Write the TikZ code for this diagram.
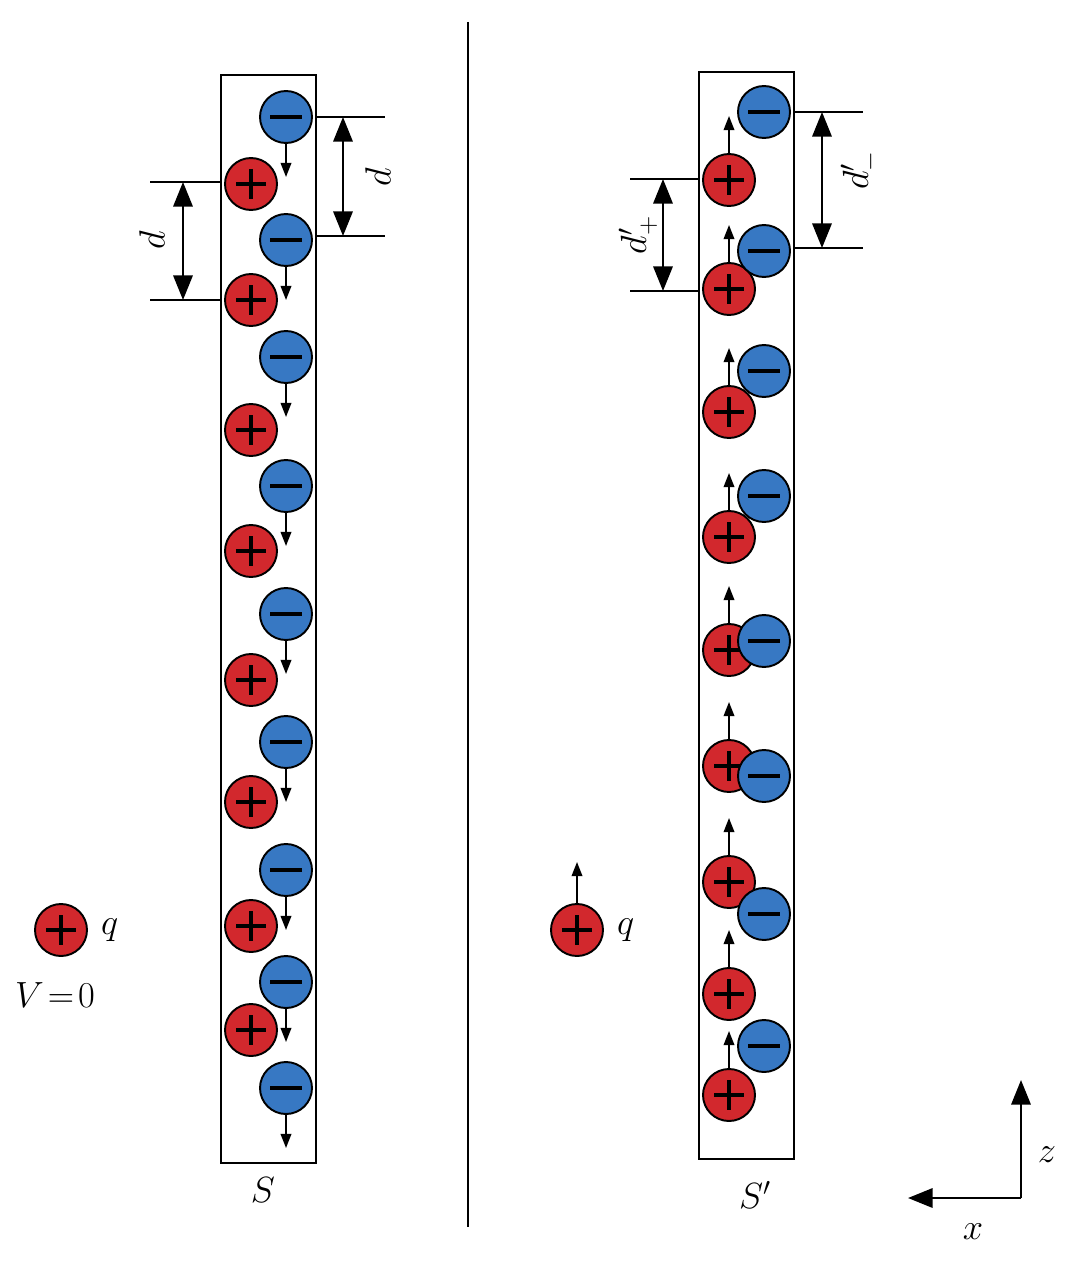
\documentclass[tikz,border=0pt]{standalone}
\usepackage{tikz}
\usetikzlibrary{arrows.meta,calc}
\definecolor{posred}{RGB}{210,40,45}
\definecolor{negblue}{RGB}{55,120,195}
\tikzset{
  poscharge/.style={circle,draw=black,line width=1.1pt,fill=posred,minimum size=1.04cm,inner sep=0pt},
  negcharge/.style={circle,draw=black,line width=1.1pt,fill=negblue,minimum size=1.04cm,inner sep=0pt},
  vel/.style={line width=1pt,-{Triangle[length=8pt,width=6pt]}},
  dim/.style={line width=1.3pt,{Triangle[length=14pt,width=11pt]}-{Triangle[length=14pt,width=11pt]}},
  lab/.style={font=\huge}
}
\newcommand{\plussign}[1]{\draw[line width=2.4pt] ($(#1)+(-15,0)$) -- ($(#1)+(15,0)$) ($(#1)+(0,-15)$) -- ($(#1)+(0,15)$);}
\newcommand{\minussign}[1]{\draw[line width=2.4pt] ($(#1)+(-16,0)$) -- ($(#1)+(16,0)$);}
\begin{document}
\begin{tikzpicture}[x=0.02cm,y=-0.02cm]
\useasboundingbox (0,0) rectangle (1080,1267);

%boxes
\draw[line width=1.2pt] (221,75) rectangle (316,1163);
\draw[line width=1.2pt] (699,72) rectangle (794,1159);
\draw[line width=1.2pt] (468,22) -- (468,1227);

%left frame S
\foreach \y [count=\i] in {184,300,430,551,680,802,926,1030}{
  \node[poscharge] (p\i) at (251,\y) {};
  \plussign{p\i}
}
\foreach \y [count=\i] in {117,240,357,486,614,742,870,982,1088}{
  \coordinate (nv\i) at (286,\y+60);
  \draw[vel] (286,\y+26) -- (nv\i);
  \node[negcharge] (n\i) at (286,\y) {};
  \minussign{n\i}
}

%right frame S'
\foreach \y [count=\i] in {180,289,412,537,650,766,882,994,1095}{
  \coordinate (pv\i) at (729,\y-64);
  \draw[vel] (729,\y-26) -- (pv\i);
  \node[poscharge] (q\i) at (729,\y) {};
  \plussign{q\i}
}
\foreach \y [count=\i] in {112,251,371,496,641,776,914,1046}{
  \node[negcharge] (m\i) at (764,\y) {};
  \minussign{m\i}
}

%dimensions left
\draw[line width=1.2pt] (316,117) -- (385,117) (316,236) -- (385,236);
\draw[dim] (343,117) -- (343,236);
\node[lab,rotate=90] at (378,177) {$d$};
\draw[line width=1.2pt] (150,182) -- (221,182) (150,300) -- (221,300);
\draw[dim] (183,182) -- (183,300);
\node[lab,rotate=90] at (152,240) {$d$};
%dimensions right
\draw[line width=1.2pt] (794,112) -- (863,112) (794,248) -- (863,248);
\draw[dim] (822,112) -- (822,248);
\node[lab,rotate=90] at (860,170) {$d'_-$};
\draw[line width=1.2pt] (630,179) -- (699,179) (630,291) -- (699,291);
\draw[dim] (663,179) -- (663,291);
\node[lab,rotate=90] at (638,235) {$d'_+$};

%test charges
\node[poscharge] (qa) at (61,930) {};
\plussign{qa}
\node[lab,right=4pt] at (qa.east) {$q$};
\node[lab] at (55,995) {$V\!=\!0$};
\coordinate (qbv) at (577,862);
\draw[vel] (577,904) -- (qbv);
\node[poscharge] (qb) at (577,930) {};
\plussign{qb}
\node[lab,right=4pt] at (qb.east) {$q$};

%labels
\node[lab] at (263,1190) {$S$};
\node[lab] at (755,1195) {$S'$};

%axes
\coordinate (O) at (1021,1198);
\coordinate (Z) at (1021,1080);
\coordinate (X) at (908,1198);
\draw[line width=1.3pt,-{Triangle[length=14pt,width=11pt]}] (O) -- (Z);
\draw[line width=1.3pt,-{Triangle[length=14pt,width=11pt]}] (O) -- (X);
\node[lab] at (1047,1155) {$z$};
\node[lab] at (973,1232) {$x$};
\end{tikzpicture}
\end{document}
